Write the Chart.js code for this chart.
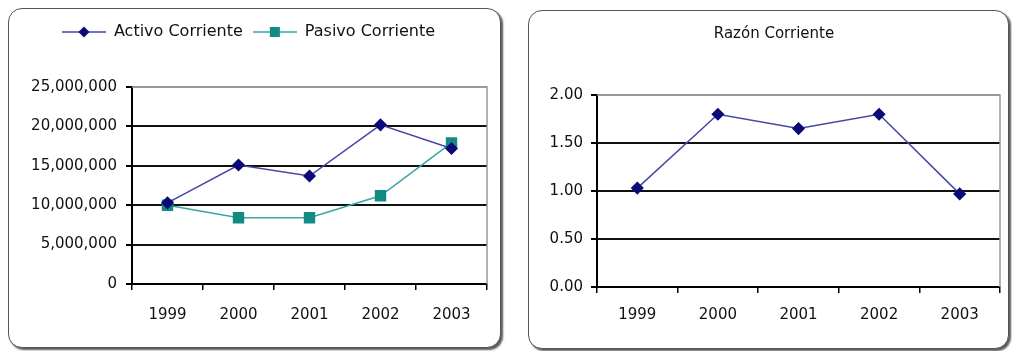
<!DOCTYPE html>
<html>
<head>
<meta charset="utf-8">
<script src="https://cdn.jsdelivr.net/npm/chart.js@4/dist/chart.umd.min.js"></script>
<style>
    body { margin: 0; background: #fff; width: 1012px; height: 351px; position: relative; overflow: hidden; }
    .panel {
        position: absolute;
        box-sizing: border-box;
        border: 1.5px solid #555;
        border-radius: 14px;
        box-shadow: 2px 2px 2px rgba(0, 0, 0, 0.65);
        background: #fff;
    }
    .box { position: absolute; }
</style>
</head>
<body>

<div class="panel" style="left:8px; top:8px; width:493px; height:340px;"></div>
<div class="panel" style="left:528px; top:10px; width:481px; height:339px;"></div>

<div class="box" style="left:10px; top:10px; width:490px; height:336px;">
    <canvas id="balanceChart"></canvas>
</div>
<div class="box" style="left:530px; top:12px; width:477px; height:334px;">
    <canvas id="ratioChart"></canvas>
</div>

<script>
// ---------------- DATA ----------------
const years = ["1999", "2000", "2001", "2002", "2003"];
const activoCorriente = [10300000, 15100000, 13700000, 20200000, 17200000];
const pasivoCorriente = [10000000, 8400000, 8400000, 11200000, 17900000];
const razonCorriente = [1.03, 1.80, 1.65, 1.80, 0.97];

const balanceTicks = { min: 0, max: 25000000, step: 5000000 };
const ratioTicks = { min: 0, max: 2, step: 0.5 };

const NAVY = "#0a0a78", NAVY_LINE = "#4646a6";
const TEAL = "#138a82", TEAL_LINE = "#3aa5a3";

Chart.defaults.font.family = "'DejaVu Sans', sans-serif";
Chart.defaults.font.size = 15;
Chart.defaults.color = "#111";


// ---------------- HELPERS ----------------
// small line+marker icon for the legend
function legendIcon(lineColor, markColor, shape) {
    const c = document.createElement("canvas");
    c.width = 44; c.height = 14;
    const g = c.getContext("2d");
    g.strokeStyle = lineColor;
    g.lineWidth = 1.5;
    g.beginPath(); g.moveTo(0, 7); g.lineTo(44, 7); g.stroke();
    g.fillStyle = markColor;
    g.beginPath();
    if (shape === "diamond") {
        g.moveTo(22, 1.5); g.lineTo(27.5, 7); g.lineTo(22, 12.5); g.lineTo(16.5, 7);
    } else {
        g.rect(17, 2, 10, 10);
    }
    g.fill();
    return c;
}

// gray top/right edge of the plot area
const plotFrame = {
    id: "plotFrame",
    afterDraw(chart) {
        const { ctx, chartArea: a } = chart;
        ctx.save();
        ctx.strokeStyle = "#9a9a9a";
        ctx.lineWidth = 1.5;
        ctx.beginPath();
        ctx.moveTo(a.left, a.top);
        ctx.lineTo(a.right, a.top);
        ctx.lineTo(a.right, a.bottom);
        ctx.stroke();
        ctx.restore();
    }
};

// extra room under the legend
const legendGap = {
    id: "legendGap",
    beforeInit(chart) {
        const fit = chart.legend.fit;
        chart.legend.fit = function () {
            fit.bind(chart.legend)();
            this.height += 37;
        };
    }
};

function gridColor(max) {
    return ctx => (ctx.tick && ctx.tick.value === max ? "#9a9a9a" : "#111");
}


// ---------------- ACTIVO / PASIVO ----------------
const icons = [legendIcon(NAVY_LINE, NAVY, "diamond"), legendIcon(TEAL_LINE, TEAL, "square")];

new Chart(document.getElementById("balanceChart"), {
    type: "line",
    data: {
        labels: years,
        datasets: [
            {
                label: "Activo Corriente",
                data: activoCorriente,
                borderColor: NAVY_LINE,
                borderWidth: 1.5,
                pointStyle: "rectRot",
                pointRadius: 5.5,
                pointBackgroundColor: NAVY,
                pointBorderColor: NAVY,
                tension: 0
            },
            {
                label: "Pasivo Corriente",
                data: pasivoCorriente,
                borderColor: TEAL_LINE,
                borderWidth: 1.5,
                pointStyle: "rect",
                pointRadius: 7,
                pointBackgroundColor: TEAL,
                pointBorderColor: TEAL,
                tension: 0
            }
        ]
    },
    options: {
        responsive: true,
        maintainAspectRatio: false,
        animation: false,
        layout: { padding: { top: 4, left: 0, right: 13, bottom: 0 } },
        plugins: {
            tooltip: { enabled: false },
            legend: {
                position: "top",
                labels: {
                    font: { size: 16 },
                    usePointStyle: true,
                    pointStyleWidth: 44,
                    padding: 10,
                    generateLabels(chart) {
                        const items = Chart.defaults.plugins.legend.labels.generateLabels(chart);
                        items.forEach((it, i) => { it.pointStyle = icons[i]; });
                        return items;
                    }
                }
            }
        },
        scales: {
            x: {
                offset: true,
                grid: { offset: true, drawOnChartArea: false, drawTicks: true, tickLength: 6, color: "#000", lineWidth: 1.5 },
                border: { color: "#000", width: 2 },
                ticks: { padding: 16, maxRotation: 0 },
                afterFit(scale) { scale.height = 62; }
            },
            y: {
                min: balanceTicks.min,
                max: balanceTicks.max,
                grid: { color: gridColor(balanceTicks.max), lineWidth: 2, tickLength: 6, tickColor: "#000" },
                border: { color: "#000", width: 2 },
                ticks: {
                    stepSize: balanceTicks.step,
                    padding: 9,
                    callback: v => v.toLocaleString("en-US")
                },
                afterFit(scale) { scale.width = 122; }
            }
        }
    },
    plugins: [legendGap, plotFrame]
});


// ---------------- RAZON CORRIENTE ----------------
new Chart(document.getElementById("ratioChart"), {
    type: "line",
    data: {
        labels: years,
        datasets: [{
            label: "Razón Corriente",
            data: razonCorriente,
            borderColor: NAVY_LINE,
            borderWidth: 1.5,
            pointStyle: "rectRot",
            pointRadius: 5.5,
            pointBackgroundColor: NAVY,
            pointBorderColor: NAVY,
            tension: 0
        }]
    },
    options: {
        responsive: true,
        maintainAspectRatio: false,
        animation: false,
        layout: { padding: { top: 0, left: 14, right: 3, bottom: 0 } },
        plugins: {
            tooltip: { enabled: false },
            legend: { display: false },
            title: {
                display: true,
                text: "Razón Corriente",
                color: "#111",
                font: { size: 15, weight: "normal" },
                padding: { top: 13, bottom: 52 }
            }
        },
        scales: {
            x: {
                offset: true,
                grid: { offset: true, drawOnChartArea: false, drawTicks: true, tickLength: 6, color: "#000", lineWidth: 1.5 },
                border: { color: "#000", width: 2 },
                ticks: { padding: 13, maxRotation: 0 },
                afterFit(scale) { scale.height = 59; }
            },
            y: {
                min: ratioTicks.min,
                max: ratioTicks.max,
                grid: { color: gridColor(ratioTicks.max), lineWidth: 2, tickLength: 6, tickColor: "#000" },
                border: { color: "#000", width: 2 },
                ticks: {
                    stepSize: ratioTicks.step,
                    padding: 8,
                    callback: v => v.toFixed(2)
                },
                afterFit(scale) { scale.width = 53; }
            }
        }
    },
    plugins: [plotFrame]
});
</script>
</body>
</html>
